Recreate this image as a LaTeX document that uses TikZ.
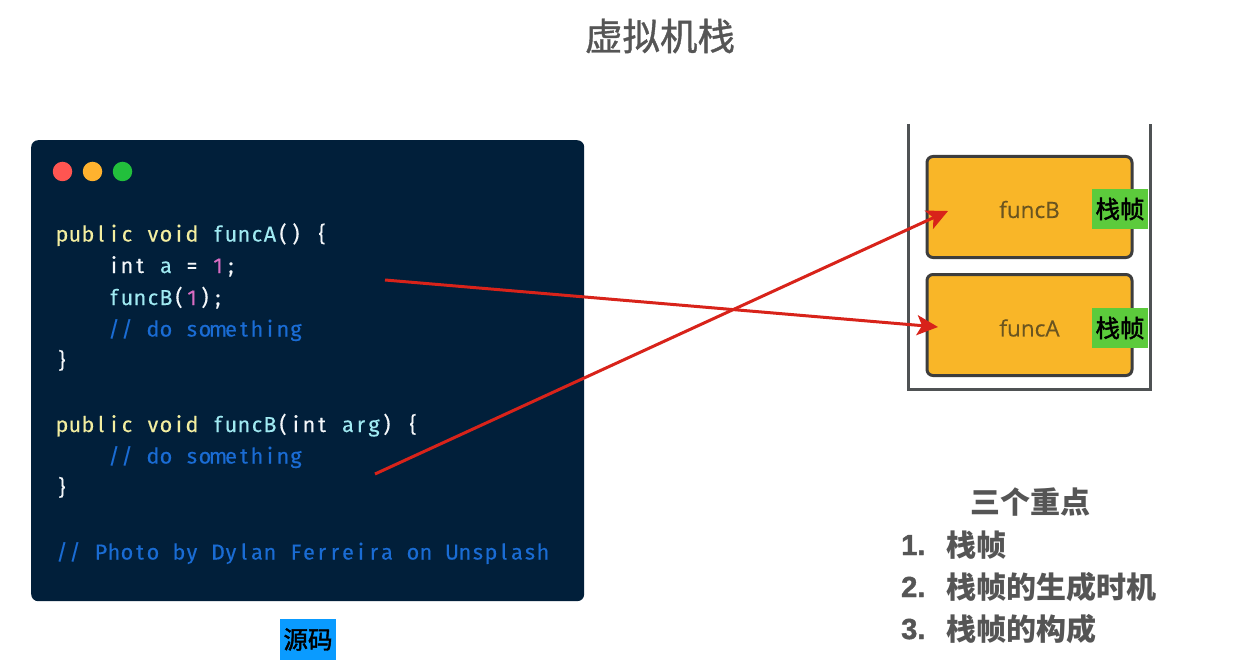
\documentclass[tikz,border=0pt]{standalone}
\usepackage{fontspec}
\setmainfont{Noto Sans CJK SC}
\newfontfamily\cjkmed{Noto Sans CJK SC}[FakeBold=1.8]
\newfontfamily\cjktitle{Noto Sans CJK SC}[FakeBold=1.0]
\newfontfamily\firafont{Fira Sans}[FakeBold=0.25]
\newfontfamily\ofont{Open Sans}[FakeBold=0.3]
\newfontfamily\numfont{Liberation Sans Bold}[FakeBold=1.5]
\usetikzlibrary{arrows.meta}
\definecolor{cardbg}{HTML}{011F3A}
\definecolor{kw}{HTML}{F3EEA0}
\definecolor{fn}{HTML}{A0EAF2}
\definecolor{tx}{HTML}{F4F7FA}
\definecolor{nm}{HTML}{D86CC2}
\definecolor{cm}{HTML}{1A6CD4}
\definecolor{ink}{HTML}{555555}
\definecolor{wall}{HTML}{4F5254}
\definecolor{frame}{HTML}{F9B628}
\definecolor{frameedge}{HTML}{3D3D3D}
\definecolor{tagg}{HTML}{5CCB3C}
\definecolor{tagb}{HTML}{0A9BFF}
\definecolor{redline}{HTML}{D8231A}
\definecolor{dotr}{HTML}{FF5551}
\definecolor{doto}{HTML}{FFB22E}
\definecolor{dotg}{HTML}{22C03C}
\definecolor{ftext}{HTML}{6A5420}
\makeatletter
\newcommand{\mono}[1]{\@tfor\mychar:=#1\do{\makebox[13pt][c]{\mychar}}}
\makeatother
\newcommand{\K}[1]{\textcolor{kw}{\mono{#1}}}
\newcommand{\F}[1]{\textcolor{fn}{\mono{#1}}}
\newcommand{\T}[1]{\textcolor{tx}{\mono{#1}}}
\newcommand{\N}[1]{\textcolor{nm}{\mono{#1}}}
\newcommand{\C}[1]{\textcolor{cm}{\mono{#1}}}
\tikzset{
  codeline/.style={anchor=base west,inner sep=0pt,outer sep=0pt,font=\firafont\fontsize{21.6}{24}\selectfont},
  dot/.style={circle,minimum size=19.5pt,inner sep=0pt,draw=none},
  framebox/.style={draw=frameedge,line width=3pt,fill=frame,rounded corners=6pt,minimum width=205pt,minimum height=101pt,inner sep=0pt},
  ftxt/.style={inner sep=0pt,text=ftext,font=\ofont\fontsize{22.5}{24}\selectfont},
  tag/.style={fill=tagg,minimum width=56pt,minimum height=40pt,inner sep=0pt,font=\cjkmed\fontsize{24.5}{26}\selectfont,text=black},
  redarrow/.style={draw=redline,line width=3pt,-{Stealth[length=21pt,width=20pt,inset=5pt]}},
  heading/.style={inner sep=0pt,text=ink},
  listnum/.style={anchor=base west,inner sep=0pt,text=ink,font=\numfont\fontsize{29}{30}\selectfont},
  listtxt/.style={anchor=base west,inner sep=0pt,text=ink,font=\bfseries\fontsize{30}{32}\selectfont},
}
\begin{document}
\begin{tikzpicture}[x=1pt,y=-1pt]
\useasboundingbox (0,0) rectangle (1255,663);
\fill[white] (0,0) rectangle (1255,663);
\node[heading,font=\cjktitle\fontsize{37.5}{40}\selectfont] (title) at (660,36) {虚拟机栈};
% code card
\node[fill=cardbg,rounded corners=7pt,minimum width=553pt,minimum height=461pt,inner sep=0pt,anchor=north west] (card) at (31,140) {};
\node[dot,fill=dotr] (d1) at (62.5,171.5) {};
\node[dot,fill=doto] (d2) at (92.5,171.5) {};
\node[dot,fill=dotg] (d3) at (122.5,171.5) {};
\node[codeline] (l1) at (55.5,241.5) {\K{public~void~}\F{funcA}\T{()~\{}};
\node[codeline] (l2) at (107.5,273) {\T{int~}\F{a}\T{~=~}\N{1}\T{;}};
\node[codeline] (l3) at (107.5,305) {\F{funcB}\T{(}\N{1}\T{);}};
\node[codeline] (l4) at (107.5,336.5) {\C{//~do~something}};
\node[codeline] (l5) at (55.5,368) {\T{\}}};
\node[codeline] (l6) at (55.5,432) {\K{public~void~}\F{funcB}\T{(int~}\F{arg}\T{)~\{}};
\node[codeline] (l7) at (107.5,463.5) {\C{//~do~something}};
\node[codeline] (l8) at (55.5,495) {\T{\}}};
\node[codeline] (l9) at (55.5,559.5) {\C{//~Photo~by~Dylan~Ferreira~on~Unsplash}};
% source tag
\node[fill=tagb,minimum width=56pt,minimum height=41pt,inner sep=0pt,font=\cjkmed\fontsize{24.5}{26}\selectfont,text=black] (src) at (308,639.5) {源码};
% stack
\coordinate (wtl) at (908.5,124);
\coordinate (wbl) at (908.5,389);
\coordinate (wbr) at (1150.5,389);
\coordinate (wtr) at (1150.5,124);
\draw[wall,line width=3pt] (wtl) -- (wbl) -- (wbr) -- (wtr);
\node[framebox] (fb) at (1029.5,207) {};
\node[framebox] (fa) at (1029.5,325) {};
\node[ftxt] (fbt) at (1029.5,209.5) {funcB};
\node[ftxt] (fat) at (1029.5,328) {funcA};
\node[tag] (tb) at (1120,209) {栈帧};
\node[tag] (ta) at (1120,328) {栈帧};
% red arrows
\coordinate (a1) at (385,280);
\coordinate (a2) at (938,327);
\coordinate (b1) at (375,474);
\coordinate (b2) at (948,211);
\draw[redarrow] (a1) -- (a2);
\draw[redarrow] (b1) -- (b2);
% list
\node[heading,font=\bfseries\fontsize{30}{32}\selectfont] (h3) at (1030,502) {三个重点};
\node[listnum] (n1) at (901,555) {1.};
\node[listtxt] (t1) at (946.5,556) {栈帧};
\node[listnum] (n2) at (901,597) {2.};
\node[listtxt] (t2) at (946.5,598) {栈帧的生成时机};
\node[listnum] (n3) at (901,639) {3.};
\node[listtxt] (t3) at (946.5,640) {栈帧的构成};
\end{tikzpicture}
\end{document}
